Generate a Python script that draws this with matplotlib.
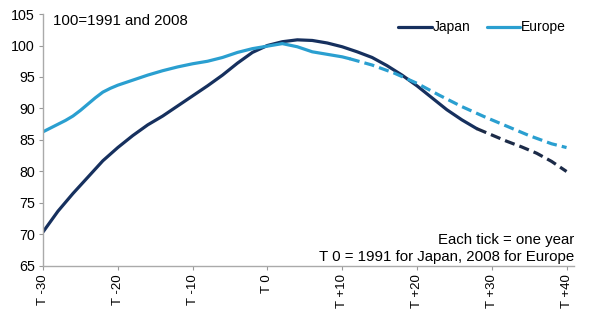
import matplotlib
matplotlib.use("Agg")
from matplotlib import pyplot as plt

plt.rcParams["font.family"] = ["Liberation Sans", "DejaVu Sans"]

# Japan, index 100 = 1991 (T 0)
japan_t = [-30, -28, -26, -24, -22, -20, -18, -16, -14, -12, -10, -8, -6, -4, -2,
           0, 2, 4, 6, 8, 10, 12, 14, 16, 18, 20, 22, 24, 26, 28]
japan_v = [70.4, 73.7, 76.5, 79.1, 81.7, 83.8, 85.7, 87.4, 88.8, 90.4, 92.0, 93.6, 95.3, 97.2, 98.9,
           100.0, 100.6, 100.9, 100.8, 100.4, 99.8, 99.0, 98.1, 96.8, 95.3, 93.6, 91.7, 89.8, 88.2, 86.8]
japan_fc_t = [28, 30, 32, 34, 36, 38, 40]
japan_fc_v = [86.8, 85.8, 84.8, 83.9, 82.9, 81.6, 80.0]

# Europe, index 100 = 2008 (T 0)
europe_t = [-30, -29, -28, -27, -26, -25, -24, -23, -22, -21, -20, -18, -16, -14, -12, -10, -8, -6, -4, -2,
            0, 2, 4, 6, 8, 10, 11]
europe_v = [86.3, 86.9, 87.5, 88.1, 88.8, 89.7, 90.7, 91.7, 92.6, 93.2, 93.7, 94.5, 95.3, 96.0, 96.6, 97.1,
            97.5, 98.1, 98.9, 99.5, 99.9, 100.3, 99.8, 99.0, 98.6, 98.2, 97.9]
europe_fc_t = [11, 14, 17, 20, 23, 26, 29, 32, 35, 38, 40]
europe_fc_v = [97.9, 96.9, 95.6, 94.0, 92.1, 90.3, 88.7, 87.2, 85.7, 84.4, 83.8]

tick_pos = [-30, -20, -10, 0, 10, 20, 30, 40]
tick_lbl = ["T -30", "T -20", "T -10", "T 0", "T +10", "T +20", "T +30", "T +40"]

japan_col = "#16305e"
europe_col = "#2a9fd0"

fig = plt.figure(figsize=(6, 3.22), dpi=100)
ax = fig.add_axes([0.0717, 0.174, 0.885, 0.7825])

ax.plot(japan_t, japan_v, color=japan_col, lw=2.3, label="Japan", solid_capstyle="round",
        solid_joinstyle="round")
ax.plot(europe_t, europe_v, color=europe_col, lw=2.3, label="Europe", solid_capstyle="round",
        solid_joinstyle="round")
ax.plot(japan_fc_t, japan_fc_v, color="#1c2b48", lw=2.3, dashes=(3.2, 1.6))
ax.plot(europe_fc_t, europe_fc_v, color=europe_col, lw=2.3, dashes=(3.2, 1.6))

ax.set_xlim(-30, 41)
ax.set_ylim(65, 105)
ax.set_yticks(range(65, 106, 5))
ax.set_xticks(tick_pos)
ax.set_xticklabels(tick_lbl, rotation=90, fontsize=9.5)
ax.tick_params(axis="y", labelsize=10.3, length=3, color="#999999", pad=3)
ax.tick_params(axis="x", length=3, color="#999999", pad=3)

for s in ("top", "right"):
    ax.spines[s].set_visible(False)
for s in ("left", "bottom"):
    ax.spines[s].set_color("#aaaaaa")
    ax.spines[s].set_linewidth(1.0)

ax.text(0.019, 0.972, "100=1991 and 2008", transform=ax.transAxes, fontsize=10.8, va="center")
ax.text(1.0, 0.103, "Each tick = one year", transform=ax.transAxes, fontsize=10.8, ha="right", va="center")
ax.text(1.0, 0.036, "T 0 = 1991 for Japan, 2008 for Europe", transform=ax.transAxes, fontsize=10.8,
        ha="right", va="center")

leg = ax.legend(loc="upper right", bbox_to_anchor=(1.008, 1.024), ncol=2, frameon=False, fontsize=10,
                handlelength=2.4, handletextpad=0.05, columnspacing=1.2)

fig.savefig("out.png", dpi=100, facecolor="white")
